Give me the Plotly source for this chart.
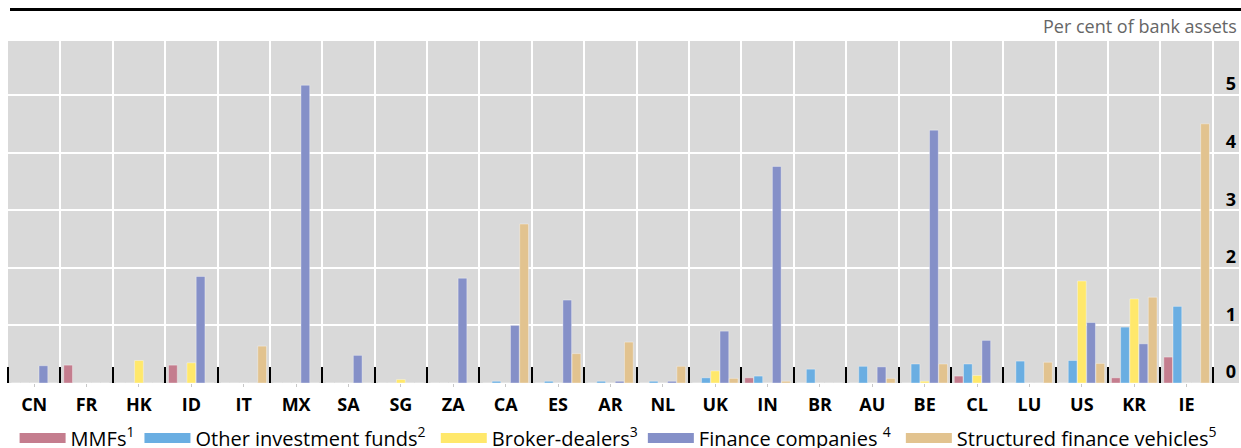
import plotly.graph_objects as go

countries = ["CN", "FR", "HK", "ID", "IT", "MX", "SA", "SG", "ZA", "CA", "ES", "AR",
             "NL", "UK", "IN", "BR", "AU", "BE", "CL", "LU", "US", "KR", "IE"]

mmfs = [0, 0.31, 0, 0.31, 0, 0, 0, 0, 0, 0, 0, 0,
        0, 0, 0.09, 0, 0, 0, 0.12, 0, 0, 0.09, 0.45]
other_funds = [0, 0, 0, 0, 0, 0, 0, 0, 0, 0.03, 0.03, 0.03,
               0.03, 0.09, 0.12, 0.24, 0.29, 0.33, 0.33, 0.38, 0.39, 0.97, 1.33]
broker_dealers = [0, 0, 0.39, 0.35, 0, 0, 0, 0.06, 0, 0, 0, 0,
                  0, 0.21, 0, 0, 0, 0.03, 0.13, 0, 1.77, 1.46, 0]
finance_cos = [0.30, 0, 0, 1.85, 0, 5.17, 0.48, 0, 1.82, 1.00, 1.44, 0.03,
               0.03, 0.90, 3.76, 0, 0.28, 4.39, 0.74, 0, 1.05, 0.68, 0]
sfv = [0, 0, 0, 0, 0.64, 0, 0, 0, 0, 2.76, 0.51, 0.71,
       0.29, 0.08, 0.03, 0, 0.08, 0.33, 0, 0.36, 0.34, 1.49, 4.50]

NB = "\u00a0"
series = [
    ("MMFs<sup>1</sup>", mmfs, "#c47d8e"),
    ("Other investment funds<sup>2</sup>" + NB, other_funds, "#6aaee2"),
    ("Broker-dealers<sup>3</sup>", broker_dealers, "#ffe86b"),
    ("Finance companies <sup>4</sup>" + NB, finance_cos, "#8590c8"),
    ("Structured finance vehicles<sup>5</sup>", sfv, "#e2c38f"),
]
y_ticks = [0, 1, 2, 3, 4, 5]

FONT = "Open Sans"
xpos = list(range(len(countries)))
boundaries = [i - 0.5 for i in range(len(countries) + 1)]

W, H = 1241, 448
T, B = 41, 65
PH = H - T - B

fig = go.Figure()
for name, vals, col in series:
    fig.add_trace(go.Bar(x=xpos, y=vals, name=name,
                         marker=dict(color=col, line=dict(color="rgba(255,255,255,0.35)", width=1)),
                         showlegend=False))
for name, vals, col in series:
    fig.add_trace(go.Scatter(x=[None], y=[None], mode="lines", name=name,
                             line=dict(color=col, width=17)))

fig.update_layout(
    width=W, height=H,
    margin=dict(l=8, r=2, t=T, b=B),
    paper_bgcolor="white", plot_bgcolor="#d9d9d9",
    barmode="group", bargap=0.12, bargroupgap=0.05,
    font=dict(family=FONT, color="black"),
    xaxis=dict(range=[-0.5, 23.0], tickmode="array", tickvals=xpos, ticktext=countries,
               ticks="outside", ticklen=3, tickcolor="#c8c8c8", tickwidth=1,
               ticklabelstandoff=2,
               showgrid=False, zeroline=False, showline=False,
               tickfont=dict(size=18, family=FONT, color="black", weight="bold"),
               minor=dict(tickmode="array", tickvals=boundaries, ticks="inside", ticklen=16,
                          tickwidth=2, tickcolor="black", showgrid=True,
                          gridcolor="white", gridwidth=1.5)),
    yaxis=dict(range=[0, PH / 57.6], side="right", tickmode="array", tickvals=y_ticks,
               ticklabelposition="inside", ticklabelshift=-11, ticklabeloverflow="allow",
               ticks="",
               showgrid=True, gridcolor="white", gridwidth=1.5, zeroline=False,
               tickfont=dict(size=18, family=FONT, color="black", weight="bold")),
    legend=dict(orientation="h", xref="container", yref="container", x=14.6 / W, y=10 / H,
                xanchor="left", yanchor="middle", itemwidth=46,
                font=dict(size=20, family=FONT, color="black"),
                bgcolor="rgba(0,0,0,0)"),
    annotations=[dict(text="Per cent of bank assets", xref="paper", yref="paper",
                      x=1.0, y=(PH + T - 26) / PH, xanchor="right", yanchor="middle",
                      showarrow=False, font=dict(size=18, family=FONT, color="#666666"))],
    shapes=[dict(type="line", xref="paper", yref="paper", x0=2 / 1231, x1=1.01,
                 y0=(PH + T - 9.5) / PH, y1=(PH + T - 9.5) / PH,
                 line=dict(color="black", width=3))],
)

fig.write_html("out.html", config={"displayModeBar": False},
               post_script="document.body.style.margin='0px';document.body.style.overflow='hidden';")
